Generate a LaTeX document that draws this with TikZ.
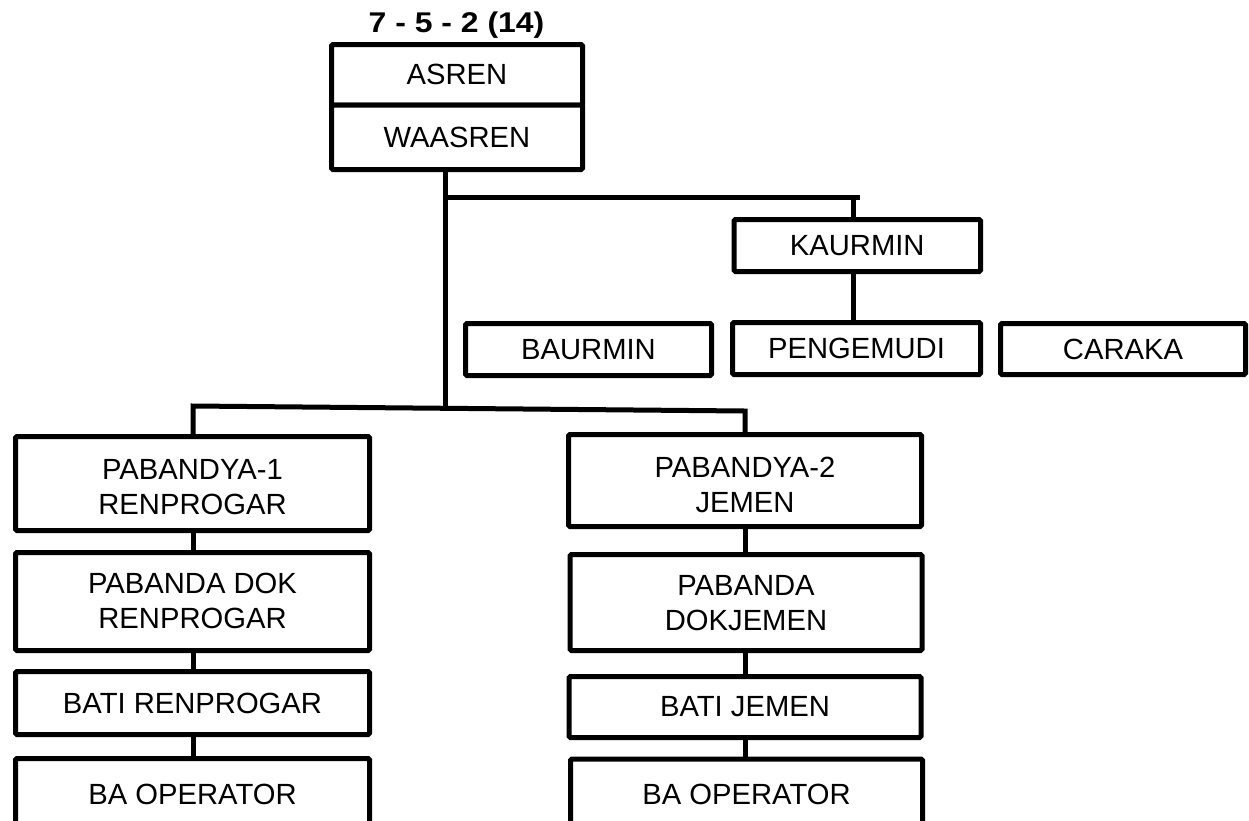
\documentclass[tikz,border=0pt]{standalone}
\usepackage{fontspec}
\setmainfont{Liberation Sans}
\newcommand\mytwoline[3]{\raisebox{-#1}[\height][\depth]{\begin{tabular}{@{}c@{}}#2\\#3\end{tabular}}}
\begin{document}
\begin{tikzpicture}[x=1pt,y=-1pt,
  box/.style={draw=black,line width=5pt,rounded corners=1.5pt,rectangle,inner sep=0pt,
    font=\fontsize{29.2}{35}\selectfont,align=center,fill=white},
  conn/.style={draw=black,line width=5pt}]
\clip (0,0) rectangle (1249,820);
\fill[white] (0,0) rectangle (1249,820);
% title
\node[anchor=base,font=\fontsize{28.5}{34}\selectfont\bfseries,inner sep=0pt] (title) at (456.5,32.7) {\scalebox{1.12}[1]{7 - 5 - 2 (14)}};
% coordinates
\coordinate (j1) at (445,197);
\coordinate (j1end) at (860,197);
\coordinate (k) at (853,197);
\coordinate (j2) at (445,408.3);
\coordinate (l2) at (193,406);
\coordinate (r2) at (745,411);
% boxes
\node[box,minimum width=251pt,minimum height=60.5pt] (asren) at (457,74.75) {ASREN};
\node[box,minimum width=251pt,minimum height=64.5pt] (waasren) at (457,137.25) {WAASREN};
\node[box,minimum width=246.5pt,minimum height=52pt] (kaurmin) at (857.25,245.5) {KAURMIN};
\node[box,minimum width=246pt,minimum height=52pt] (baurmin) at (588.5,349.5) {BAURMIN};
\node[box,minimum width=248pt,minimum height=52pt] (pengemudi) at (856.5,348.5) {PENGEMUDI};
\node[box,minimum width=245pt,minimum height=51pt] (caraka) at (1123,349) {CARAKA};
% left column
\node[box,minimum width=354pt,minimum height=94pt] (pab1) at (192.5,483.5) {\mytwoline{6.5pt}{PABANDYA-1}{RENPROGAR}};
\node[box,minimum width=354pt,minimum height=98pt] (pdok1) at (192.5,601.5) {\mytwoline{2.5pt}{PABANDA DOK}{RENPROGAR}};
\node[box,minimum width=354pt,minimum height=63pt] (bati1) at (192.5,703) {BATI RENPROGAR};
\node[box,minimum width=354pt,minimum height=71pt] (baop1) at (192.5,794) {BA OPERATOR};
% right column
\node[box,minimum width=353pt,minimum height=92pt] (pab2) at (745,480.5) {\mytwoline{7pt}{PABANDYA-2}{JEMEN}};
\node[box,minimum width=352pt,minimum height=96pt] (pdok2) at (746,602.5) {\mytwoline{3.5pt}{PABANDA}{DOKJEMEN}};
\node[box,minimum width=352pt,minimum height=61pt] (bati2) at (745,707) {BATI JEMEN};
\node[box,minimum width=352pt,minimum height=70pt] (baop2) at (746.5,794) {BA OPERATOR};
% connectors
\draw[conn] (waasren.south -| j1) -- (j2);
\draw[conn] (j1) -- (j1end);
\draw[conn] (k) -- (k |- kaurmin.north);
\draw[conn] (kaurmin.south -| k) -- (pengemudi.north -| k);
\draw[conn] (l2 |- pab1.north) -- (l2) -- (r2) -- (r2 |- pab2.north);
\draw[conn] (pab1.south -| l2) -- (pdok1.north -| l2);
\draw[conn] (pdok1.south -| l2) -- (bati1.north -| l2);
\draw[conn] (bati1.south -| l2) -- (baop1.north -| l2);
\draw[conn] (pab2.south -| r2) -- (pdok2.north -| r2);
\draw[conn] (pdok2.south -| r2) -- (bati2.north -| r2);
\draw[conn] (bati2.south -| r2) -- (baop2.north -| r2);
\end{tikzpicture}
\end{document}
